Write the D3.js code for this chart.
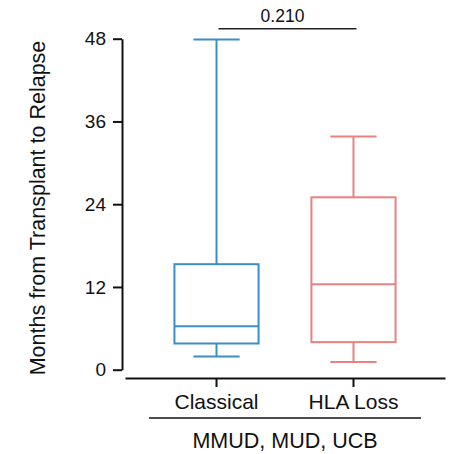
<!DOCTYPE html>
<html>
<head>
<meta charset="utf-8">
<script src="https://cdn.jsdelivr.net/npm/d3@7/dist/d3.min.js"></script>
<style>
  html, body { margin: 0; padding: 0; background: #fff; }
  svg { display: block; font-family: "Liberation Sans", Arial, sans-serif; }
</style>
</head>
<body>
<svg id="chart" width="450" height="454"></svg>
<script>
const categories = ["Classical", "HLA Loss"];
const whiskerLow = [1.9, 1.1];
const q1 = [3.8, 4.0];
const median = [6.3, 12.4];
const q3 = [15.3, 25.0];
const whiskerHigh = [47.9, 33.8];
const colors = ["#3b8ec8", "#e8817f"];
const yTicks = [0, 12, 24, 36, 48];
const pValue = "0.210";
const groupLabel = "MMUD, MUD, UCB";
const yLabel = "Months from Transplant to Relapse";

const svg = d3.select("#chart");

const y = d3.scaleLinear().domain([0, 48]).range([369.7, 38.7]);
const x = d3.scaleBand().domain(categories).range([125, 445]).padding(0.336);

const boxW = x.bandwidth() * 0.925;
const capW = boxW * 0.55;

// Y axis
const yAxis = svg.append("g")
  .attr("transform", "translate(122,0)")
  .call(d3.axisLeft(y).tickValues(yTicks).tickSize(9).tickSizeOuter(0).tickPadding(7));
yAxis.select(".domain").attr("stroke", "#111").attr("stroke-width", 2);
yAxis.selectAll(".tick line").attr("stroke", "#111").attr("stroke-width", 2);
yAxis.selectAll(".tick text").attr("font-size", "19px").attr("fill", "#111")
  .attr("font-family", "Liberation Sans, Arial, sans-serif");

// X axis
const xAxis = svg.append("g")
  .attr("transform", "translate(0,378)")
  .call(d3.axisBottom(x).tickSize(9).tickSizeOuter(0).tickPadding(7));
xAxis.select(".domain").attr("stroke", "#111").attr("stroke-width", 2);
xAxis.selectAll(".tick line").attr("stroke", "#111").attr("stroke-width", 2);
xAxis.selectAll(".tick text").attr("font-size", "21px").attr("fill", "#111")
  .attr("font-family", "Liberation Sans, Arial, sans-serif");

// Boxes
const data = categories.map((c, i) => ({
  c, lo: whiskerLow[i], q1: q1[i], med: median[i], q3: q3[i], hi: whiskerHigh[i], col: colors[i]
}));

const g = svg.append("g").attr("fill", "none").attr("stroke-width", 2);
data.forEach(d => {
  const cx = x(d.c) + x.bandwidth() / 2;
  const gg = g.append("g").attr("stroke", d.col);
  // whiskers
  gg.append("line").attr("x1", cx).attr("x2", cx).attr("y1", y(d.q3)).attr("y2", y(d.hi));
  gg.append("line").attr("x1", cx).attr("x2", cx).attr("y1", y(d.q1)).attr("y2", y(d.lo));
  gg.append("line").attr("x1", cx - capW / 2).attr("x2", cx + capW / 2).attr("y1", y(d.hi)).attr("y2", y(d.hi));
  gg.append("line").attr("x1", cx - capW / 2).attr("x2", cx + capW / 2).attr("y1", y(d.lo)).attr("y2", y(d.lo));
  // box
  gg.append("rect").attr("x", cx - boxW / 2).attr("width", boxW)
    .attr("y", y(d.q3)).attr("height", y(d.q1) - y(d.q3)).attr("fill", "#fff");
  gg.append("line").attr("x1", cx - boxW / 2).attr("x2", cx + boxW / 2).attr("y1", y(d.med)).attr("y2", y(d.med));
});

// Significance bar
const c0 = x(categories[0]) + x.bandwidth() / 2;
const c1 = x(categories[1]) + x.bandwidth() / 2;
svg.append("line").attr("x1", c0 + 2).attr("x2", c1 + 3).attr("y1", 28.7).attr("y2", 28.7)
  .attr("stroke", "#222").attr("stroke-width", 1.6);
svg.append("text").attr("x", (c0 + c1) / 2 - 2.5).attr("y", 22).attr("text-anchor", "middle")
  .attr("font-size", "17.5px").attr("fill", "#111").text(pValue);

// Group line and label
svg.append("line").attr("x1", 149).attr("x2", 421).attr("y1", 418).attr("y2", 418)
  .attr("stroke", "#111").attr("stroke-width", 1.6);
svg.append("text").attr("x", 285).attr("y", 448).attr("text-anchor", "middle")
  .attr("font-size", "21.5px").attr("fill", "#111").text(groupLabel);

// Y label
svg.append("text").attr("transform", "translate(45,208) rotate(-90)")
  .attr("text-anchor", "middle").attr("font-size", "21.5px").attr("fill", "#111").text(yLabel);
</script>
</body>
</html>
